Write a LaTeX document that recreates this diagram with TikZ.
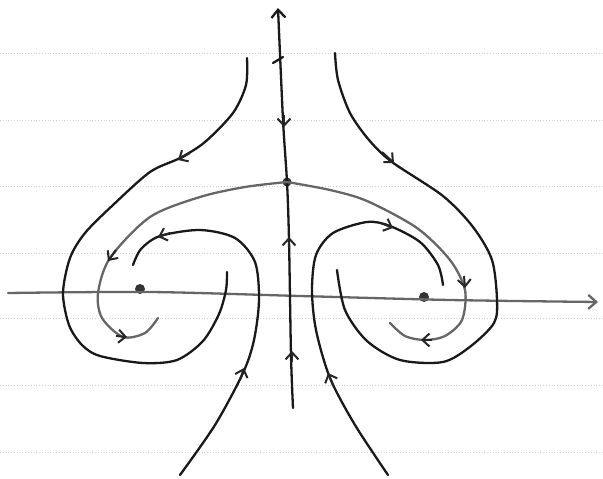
\documentclass[tikz,border=0pt]{standalone}
\usepackage{tikz}
\usetikzlibrary{arrows.meta}
\tikzstyle{ruled} = [gray!35, line width=0.8pt, dotted]
\tikzstyle{curve} = [black!90, line width=2.3pt, line cap=round, line join=round]
\tikzstyle{pencil} = [black!60, line width=2.3pt, line cap=round, line join=round]
\tikzstyle{flow} = [black!85, line width=2pt, -{Straight Barb[length=7pt,width=13pt]}]
\tikzstyle{point} = [circle, fill=black!80, inner sep=0pt, minimum size=10pt]

\begin{document}
\begin{tikzpicture}[x=1pt, y=-1pt]
\useasboundingbox (0,0) rectangle (603,479);

% Paper lines
\foreach \yy in {53,120,186,253,318,385,452}
  \draw[ruled] (0,\yy) -- (603,\yy);

% Equilibria
\node (saddle) [point, minimum size=9pt] at (287,182) {};
\node (leftfocus) [point] at (140,289) {};
\node (rightfocus) [point] at (424,297) {};

% Axes
\draw[pencil, -{Straight Barb[length=8pt,width=14pt]}] plot[smooth] coordinates {(8,293) (150,292) (300,296) (450,300) (598,302)};
\draw[curve, -{Straight Barb[length=8pt,width=14pt]}] plot[smooth] coordinates {(293,408) (291,355) (289,240) (saddle.center) (283,120) (278,8)};
\draw[curve] (273,63) -- (283,57);

% Outer trajectories
\draw[curve] plot[smooth] coordinates {(247,58) (246,85) (233,113) (205,142) (180,158) (150,172) (113,205) (85,233) (70,258) (63,293) (69,325) (82,345) (100,356) (143,363) (177,360) (203,341) (219,314) (226,290) (227,272)};
\draw[curve] plot[smooth] coordinates {(335,53) (338,80) (350,113) (369,140) (392,162) (443,196) (473,227) (492,260) (497,300) (494,323) (471,346) (443,362) (400,360) (367,341) (345,310) (337,270)};

% Unstable manifolds of the saddle
\draw[pencil] plot[smooth] coordinates {(saddle.center) (245,187) (200,197) (150,217) (110,258) (98,293) (102,318) (123,337) (145,333) (158,318)};
\draw[pencil] plot[smooth] coordinates {(saddle.center) (330,190) (367,201) (417,228) (450,260) (465,290) (462,320) (445,336) (425,340) (405,336) (390,323)};

% Inner spirals
\draw[curve] plot[smooth] coordinates {(180,475) (215,425) (243,373) (254,340) (259,300) (255,262) (235,238) (200,230) (160,236) (141,249) (133,265)};
\draw[curve] plot[smooth] coordinates {(388,475) (355,425) (330,378) (316,330) (312,290) (316,255) (333,233) (367,222) (390,226) (420,242) (438,265) (443,285)};

% Direction of flow
\draw[flow] (284,115) -- (284,127);
\draw[flow] (289,248) -- (289,237);
\draw[flow] (292,362) -- (292,351);
\draw[flow] (190,153) -- (178,160);
\draw[flow] (382,152) -- (394,163);
\draw[flow] (116,250) -- (108,261);
\draw[flow] (116,336) -- (127,337);
\draw[flow] (464,276) -- (465,288);
\draw[flow] (432,340) -- (421,340);
\draw[flow] (240,380) -- (244,368);
\draw[flow] (333,385) -- (328,373);
\draw[flow] (170,233) -- (158,237);
\draw[flow] (381,223) -- (393,228);

\end{tikzpicture}
\end{document}
